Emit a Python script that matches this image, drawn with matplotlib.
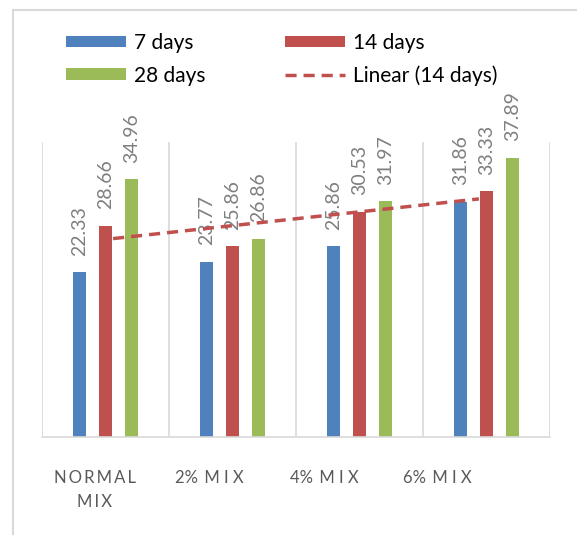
import numpy as np
import matplotlib.pyplot as plt
from matplotlib.patches import Rectangle
from matplotlib.transforms import ScaledTranslation

plt.rcParams['font.family'] = ['Lato', 'DejaVu Sans']

# ---- data ----
mixes = ["N\u2009O\u2009R\u2009M\u2009A\u2009L\nM\u2009I\u2009X",
         "2%\u2009 M\u2009\u2009I\u2009\u2009X",
         "4%\u2009 M\u2009\u2009I\u2009\u2009X",
         "6%\u2009 M\u2009\u2009I\u2009\u2009X"]
days7 = [22.33, 23.77, 25.86, 31.86]
days14 = [28.66, 25.86, 30.53, 33.33]
days28 = [34.96, 26.86, 31.97, 37.89]

BLUE = "#4F81BD"
RED = "#C0504D"
GREEN = "#9BBB59"
GRID = "#D9D9D9"

fig = plt.figure(figsize=(5.77, 5.35), dpi=100)
ax = fig.add_axes([42/577, 98/535, 508/577, 295/535])

x = np.arange(len(mixes))
w = 0.106
step = 0.205
series = [(days7, BLUE, "7 days", -step), (days14, RED, "14 days", 0.0),
          (days28, GREEN, "28 days", step)]
handles = []
for vals, col, lab, off in series:
    bars = ax.bar(x + off, vals, width=w, color=col, label=lab, zorder=2)
    ax.bar_label(bars, labels=[f"{v:.2f}" for v in vals], rotation=90,
                 padding=12, fontsize=14, color="#7F7F7F")
    handles.append(bars)

# linear trend through the 14 day strengths
k, b = np.polyfit(x + 1, days14, 1)
xt = np.array([x[0] + 0.06, x[-1] - 0.06])
trend, = ax.plot(xt, k*(xt + 1) + b, color=RED, lw=2.5, dashes=(3.2, 2),
                 zorder=4, label="Linear (14 days)")

ax.set_xlim(-0.5, len(mixes) - 0.5)
ax.set_ylim(0, 40)
for g in np.arange(-0.5, len(mixes), 1.0):
    ax.axvline(g, color=GRID, lw=1.2, zorder=0)
for s in ["top", "left", "right"]:
    ax.spines[s].set_visible(False)
ax.spines["bottom"].set_color(GRID)
ax.spines["bottom"].set_linewidth(1.2)
ax.set_yticks([])
ax.set_xticks(x)
ax.set_xticklabels(mixes, fontsize=12, color="#595959", linespacing=1.6)
ax.tick_params(axis="x", length=0, pad=24)
shifts = [-11, -23, -35, -49]
for t, dx in zip(ax.get_xticklabels(), shifts):
    t.set_transform(t.get_transform() + ScaledTranslation(dx/100, 0, fig.dpi_scale_trans))
    t.set_verticalalignment("top")

# legend filled column-wise, so order entries to read across rows
leg_handles = [handles[0], handles[2], handles[1], trend]
leg_labels = ["7 days", "28 days", "14 days", "Linear (14 days)"]
fig.legend(leg_handles, leg_labels, ncol=2, loc="upper left",
           bbox_to_anchor=(66/577, 1 - 33/535), frameon=False, fontsize=15,
           handlelength=2.9, handleheight=0.48, handletextpad=0.38,
           columnspacing=3.8, labelspacing=0.6, borderpad=0, borderaxespad=0)

# outer chart border
fig.patches.append(Rectangle((13/577, -0.1), 1.2, 1 - 10/535 + 0.1,
                             transform=fig.transFigure, fill=False,
                             edgecolor=GRID, lw=1.5))

fig.savefig("out.png", dpi=100)
